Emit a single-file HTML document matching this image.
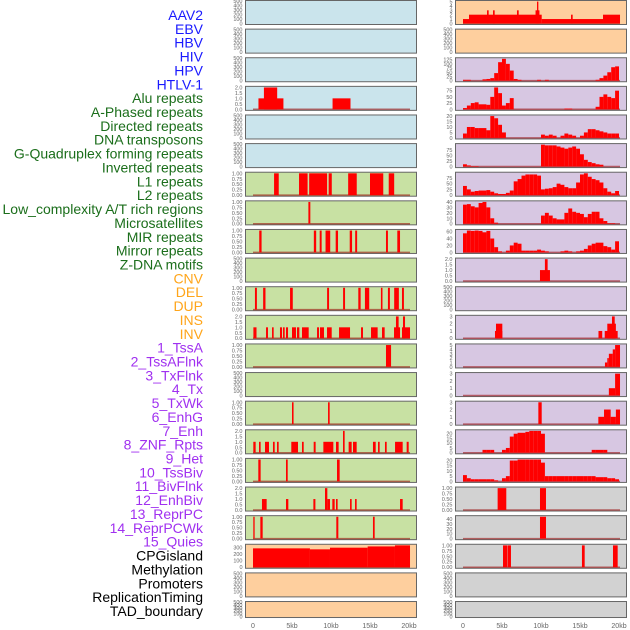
<!DOCTYPE html>
<html><head><meta charset="utf-8"><style>
html,body{margin:0;padding:0;background:#fff;width:630px;height:630px;overflow:hidden}
svg{display:block}
</style></head><body>
<svg id="chart" width="630" height="630" viewBox="0 0 630 630" xmlns="http://www.w3.org/2000/svg" font-family="Liberation Sans, sans-serif"></svg>
<script>
// ---- labels ----
const labelNames = ["AAV2","EBV","HBV","HIV","HPV","HTLV-1","Alu repeats","A-Phased repeats","Directed repeats","DNA transposons","G-Quadruplex forming repeats","Inverted repeats","L1 repeats","L2 repeats","Low_complexity A/T rich regions","Microsatellites","MIR repeats","Mirror repeats","Z-DNA motifs","CNV","DEL","DUP","INS","INV","1_TssA","2_TssAFlnk","3_TxFlnk","4_Tx","5_TxWk","6_EnhG","7_Enh","8_ZNF_Rpts","9_Het","10_TssBiv","11_BivFlnk","12_EnhBiv","13_ReprPC","14_ReprPCWk","15_Quies","CPGisland","Methylation","Promoters","ReplicationTiming","TAD_boundary"];
const labelGroups = [0,0,0,0,0,0,1,1,1,1,1,1,1,1,1,1,1,1,1,2,2,2,2,2,3,3,3,3,3,3,3,3,3,3,3,3,3,3,3,4,4,4,4,4];
// ---- x axis ----
const xTickVals = [0,5,10,15,20];
const xTickLabels = ["0","5kb","10kb","15kb","20kb"];
// ---- tick label sets ----
const tEmpty = ["0","100","200","300","400","500"];
const tUnit = ["0.00","0.25","0.50","0.75","1.00"];
const tTwo = ["0.0","0.5","1.0","1.5","2.0"];
// ---- segment data (kb start, kb end, value) ----
const hivS=[0.7,1.4,10.2], hivE=[3.9,3.1,12.5], hivV=[1,2,1];
const aluS=[2.7,5.9,7.2,9.7,12.2,15.0,17.4], aluE=[3.3,7.0,9.5,10.1,13.3,16.7,18.1], aluV=[1,1,1,1,1,1,1];
const aphS=[7.1], aphE=[7.35], aphV=[1];
const dirS=[0.8,7.8,8.55,9.3,10.6,12.4,13.1,17.05,18.5], dirE=[1.1,8.1,8.8,9.9,10.9,12.7,13.35,17.3,18.85], dirV=[1,1,1,1,1,1,1,1,1];
const gqS=[0.25,1.3,4.75,9.5,11.55,13.5,14.35,16.4,17.3,18.1,19.1], gqE=[0.5,1.6,5.1,9.75,11.8,13.8,14.9,16.6,17.55,18.7,19.35], gqV=[1,1,1,1,1,1,1,1,1,1,1];
const invS=[0.05,1.67,2.44,3.46,3.85,4.23,5.0,5.64,6.28,8.21,8.59,9.49,11.03,13.85,15.13,16.54,18.08,19.1,18.33,19.23];
const invE=[0.45,1.92,2.65,3.72,4.06,4.49,5.51,5.94,7.14,8.46,9.1,10.09,12.44,14.1,15.98,16.88,18.85,20.13,18.67,19.49];
const invV=[1,1,1,1,1,1,1,1,1,1,1,1,1,1,1,1,1,1,2,2];
const l1S=[17.05], l1E=[17.7], l1V=[1];
const lowS=[5.0,9.62], lowE=[5.2,9.83], lowV=[1,1];
const micS=[0.04,0.77,1.54,2.56,3.08,4.91,6.28,7.78,9.02,10.64,12.26,12.82,15.38,16.03,16.92,18.21,19.7,11.54];
const micE=[0.34,0.98,2.05,2.78,3.29,5.77,6.5,8.03,10.3,10.98,12.65,13.29,15.73,16.24,17.14,19.19,19.96,11.75];
const micV=[1,1,1,1,1,1,1,1,1,1,1,1,1,1,1,1,1,2];
const mirS=[0.68,4.23,10.77], mirE=[0.98,4.45,11.11], mirV=[1,1,1];
const mrrS=[1.15,4.23,7.74,9.23,9.53,10.17,10.64,12.44,13.08,18.85], mrrE=[1.75,4.53,8.0,9.53,9.87,10.47,10.85,12.65,13.29,19.19], mrrV=[1,1,1,2,1,1,1,1,1,1];
const zdnaS=[0.04,0.94,10.68,15.38], zdnaE=[0.21,1.24,10.94,15.6], zdnaV=[1,1,1,1];
const cnvS=[0,7.3,9.87,14.7,18.2], cnvE=[7.3,9.87,14.7,18.2,20.13], cnvV=[285,270,295,314,330];
const insS=[0,0.77,3.08,3.85,6.92,9.3,9.49,10.09,13.85,17.95], insE=[0.77,10.09,3.29,4.06,7.14,9.8,9.66,17.95,14.06,20.13], insV=[1,2,3,3,3,3,5,1,2,2];
const znfS=[9.87,10.5], znfE=[11.15,10.85], znfV=[1,2];
const tbS=[4.1,4.23,17.37,18.17,18.5,19.1], tbE=[5.04,5.04,17.85,19.83,19.6,19.45], tbV=[1,2,1,1,2,3];
const bfS=[18.2,18.5,18.7,19.2,19.5], bfE=[18.5,18.7,19.2,19.5,20.13], bfV=[1,2,3,4,5];
const ebS=[18.7,19.5], ebE=[19.5,20.13], ebV=[1,3];
const rpS=[9.66,17.35,18.08,18.93,19.6], rpE=[10.09,18.08,18.93,19.6,20.13], rpV=[3,1,2,1,2];
const cpgS=[4.44,9.87], cpgE=[5.55,10.64], cpgV=[1,1];
const metS=[9.87], metE=[10.64], metV=[45];
const proS=[5.13,5.7,15.25,19.23], proE=[5.65,6.15,15.6,19.83], proV=[1,1,1,1];
// ---- binned data (0.5 kb bins) ----
const tssA=[5,5,0,0,0,8,10,15,45,110,130,100,60,10,5,0,0,0,0,5,0,5,0,0,0,0,0,0,0,0,0,0,0,0,5,15,30,50,80,85];
const tssAFlnk=[5,15,25,28,20,20,18,50,88,65,15,25,45,0,0,0,0,0,0,0,0,0,0,0,0,0,3,3,0,0,0,0,0,0,10,50,60,50,45,75];
const txFlnk=[4,10,10,9,9,9,7,20,18,12,5,0,0,0,0,0,0,0,0,0,3,2,3,2,0,2,4,3,2,0,2,5,8,8,7,6,5,4,4,4];
const tx=[10,5,2,2,0,0,0,0,0,0,0,0,0,0,0,0,0,0,0,0,98,95,95,95,90,85,80,85,90,80,55,30,20,15,10,8,0,0,0,0];
const txWk=[40,25,15,18,20,20,22,15,8,5,5,10,20,60,70,85,90,90,90,85,25,28,30,35,50,45,35,30,30,55,90,95,80,70,65,55,30,15,8,18];
const enhG=[35,36,32,30,38,40,30,10,2,0,0,0,0,0,0,0,0,0,0,0,15,20,15,10,8,8,20,28,22,20,18,12,18,22,22,10,5,1,1,0];
const enh=[55,63,62,63,62,58,62,40,15,3,0,5,20,28,25,5,5,5,5,8,5,3,0,0,0,3,5,3,0,3,5,10,20,25,28,28,18,15,8,32];
const reprPCWk=[0,0,0,0,0,3,3,3,0,0,3,5,17,20,21,21,22,23,23,23,20,0,0,0,0,0,0,0,0,0,0,0,0,3,3,3,3,0,0,0];
const quies=[6,3,2,2,2,2,2,2,1,0,3,5,20,20,21,21,21,21,21,21,18,5,5,5,5,5,5,5,5,5,5,5,5,5,4,4,4,3,3,2];

const BG=["#cae4ec","#c8e1a3","#fecf9e","#d7c7e2","#d2d2d2"];
const LC=["#1a1aff","#1b6e1b","#ffa51a","#a030f0","#000000"];
function seg(s,e,v){return {s:s,e:e,v:v};}
function bins(a){const s=[],e=[],v=[];a.forEach((x,i)=>{s.push(i*0.5);e.push(Math.min((i+1)*0.5,20.13));v.push(x);});return {s:s,e:e,v:v};}
const panels=[
['aav2',0,0,0,tEmpty,null],['ebv',0,1,0,tEmpty,null],['hbv',0,2,0,tEmpty,null],
['hiv',0,3,0,tTwo,seg(hivS,hivE,hivV)],['hpv',0,4,0,tEmpty,null],['htlv-1',0,5,0,tEmpty,null],
['alu-repeats',0,6,1,tUnit,seg(aluS,aluE,aluV)],['a-phased-repeats',0,7,1,tUnit,seg(aphS,aphE,aphV)],
['directed-repeats',0,8,1,tUnit,seg(dirS,dirE,dirV)],['dna-transposons',0,9,1,tEmpty,null],
['g-quadruplex',0,10,1,tUnit,seg(gqS,gqE,gqV)],['inverted-repeats',0,11,1,tTwo,seg(invS,invE,invV)],
['l1-repeats',0,12,1,tUnit,seg(l1S,l1E,l1V)],['l2-repeats',0,13,1,tEmpty,null],
['low-complexity',0,14,1,tUnit,seg(lowS,lowE,lowV)],['microsatellites',0,15,1,tTwo,seg(micS,micE,micV)],
['mir-repeats',0,16,1,tUnit,seg(mirS,mirE,mirV)],['mirror-repeats',0,17,1,tTwo,seg(mrrS,mrrE,mrrV)],
['z-dna-motifs',0,18,1,tUnit,seg(zdnaS,zdnaE,zdnaV)],['cnv',0,19,2,["0","100","200","300"],seg(cnvS,cnvE,cnvV)],
['del',0,20,2,tEmpty,null],['dup',0,21,2,tEmpty,null],
['ins',1,0,2,["0","1","2","3","4","5"],seg(insS,insE,insV)],['inv',1,1,2,tEmpty,null],
['tssa',1,2,3,["0","25","50","75","100","125"],bins(tssA)],['tssaflnk',1,3,3,["0","25","50","75"],bins(tssAFlnk)],
['txflnk',1,4,3,["0","5","10","15","20"],bins(txFlnk)],['tx',1,5,3,["0","25","50","75"],bins(tx)],
['txwk',1,6,3,["0","25","50","75"],bins(txWk)],['enhg',1,7,3,["0","10","20","30","40"],bins(enhG)],
['enh',1,8,3,["0","20","40","60"],bins(enh)],['znf-rpts',1,9,3,tTwo,seg(znfS,znfE,znfV)],
['het',1,10,3,tEmpty,null],['tssbiv',1,11,3,["0","1","2","3"],seg(tbS,tbE,tbV)],
['bivflnk',1,12,3,["0","1","2","3","4","5"],seg(bfS,bfE,bfV)],['enhbiv',1,13,3,["0","1","2","3"],seg(ebS,ebE,ebV)],
['reprpc',1,14,3,["0","1","2","3"],seg(rpS,rpE,rpV)],['reprpcwk',1,15,3,["0","5","10","15","20"],bins(reprPCWk)],
['quies',1,16,3,["0","5","10","15","20"],bins(quies)],['cpgisland',1,17,4,tUnit,seg(cpgS,cpgE,cpgV)],
['methylation',1,18,4,["0","10","20","30","40"],seg(metS,metE,metV)],['promoters',1,19,4,tUnit,seg(proS,proE,proV)],
['replication-timing',1,20,4,tEmpty,null],['tad-boundary',1,21,4,tEmpty,null]
];
const NS="http://www.w3.org/2000/svg";
const svg=document.getElementById('chart');
function mk(tag,attrs,parent){const el=document.createElementNS(NS,tag);for(const k in attrs)el.setAttribute(k,attrs[k]);(parent||svg).appendChild(el);return el;}
// labels
labelNames.forEach((n,i)=>{
  const t=mk('text',{x:203,y:15+i*13.86+5,'text-anchor':'end','font-size':14,fill:LC[labelGroups[i]]});
  
  
  t.textContent=n;
});
const colLeft=[245,455], colZero=[253,463], KB=7.8, PW=171;
function xs(c,kb){return colZero[c]+kb*KB;}
panels.forEach(p=>{
  const [name,c,r,bg,ticks,data]=p;
  const top=r*28.62, h=(r===21?16:24), L=colLeft[c];
  const g=mk('g',{});
  
  
  const rc=mk('rect',{x:L+0.5,y:top+0.5,width:PW,height:h,fill:BG[bg],stroke:'#666','stroke-width':1},g);
  
  
  let ymap;
  const tickNums=ticks.map(Number);
  if(!data){
    ymap=v=>top+h-0.5-(h-1.5)*v/500;
  } else {
    const M=Math.max.apply(null,data.v);
    ymap=v=>top+0.5+h*(1.05*M-v)/(1.1*M);
    // baseline
    const bl=mk('line',{x1:xs(c,0),x2:xs(c,20.13),y1:ymap(0),y2:ymap(0),stroke:'rgba(150,0,0,0.55)','stroke-width':1.5},g);
    
    
    data.v.forEach((v,i)=>{
      if(v<=0)return;
      const x1=xs(c,data.s[i]),x2=xs(c,data.e[i]);
      const b=mk('rect',{x:x1,y:ymap(v),width:Math.max(x2-x1,0.8),height:ymap(0)-ymap(v),fill:'#ff0000'},g);
      
      
    });
  }
  ticks.forEach((t,i)=>{
    const tt=mk('text',{x:L-2.5,y:ymap(tickNums[i])+2,'text-anchor':'end','font-size':5.5,fill:'#666'},g);
    
    
    tt.textContent=t;
  });
});
[0,1].forEach(c=>{
  xTickVals.forEach((v,i)=>{
    const t=mk('text',{x:xs(c,v),y:628,'text-anchor':'middle','font-size':7,fill:'#666'});
    
    
    t.textContent=xTickLabels[i];
  });
});
</script>
</body></html>
